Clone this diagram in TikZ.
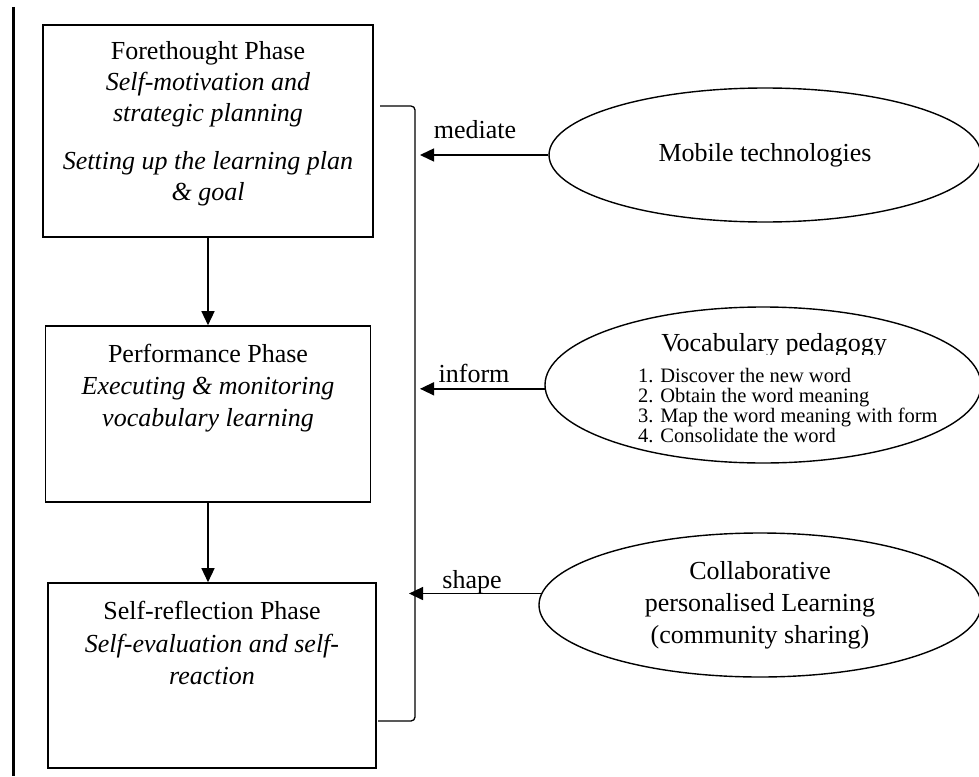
\documentclass[tikz,border=0pt]{standalone}
\usepackage{fontspec}
\setmainfont{Liberation Serif}
\usetikzlibrary{arrows.meta,shapes.geometric,calc}
\lineskiplimit=-40pt
\begin{document}
\begin{tikzpicture}[x=1pt,y=-1pt,
  phasebox/.style={draw,line width=1.6pt,inner sep=0pt},
  conn/.style={line width=1.4pt,-{Triangle[length=14pt,width=13pt]}},
  oval/.style={draw,ellipse,line width=1.4pt,inner sep=0pt},
  txt/.style={font=\fontsize{26}{31}\selectfont,align=center,inner sep=0pt},
  lbl/.style={font=\fontsize{26}{31}\selectfont,inner sep=0pt},
]
\useasboundingbox (0,0) rectangle (979,776);
% left rule
\coordinate (lt) at (13,7);
\coordinate (lb) at (13,776);
\draw[line width=3pt] (lt) -- (lb);
% phase boxes
\node[phasebox,minimum width=330pt,minimum height=212pt] (b1) at (208,131) {};
\node[phasebox,minimum width=325pt,minimum height=176pt] (b2) at (208,414) {};
\node[phasebox,minimum width=328pt,minimum height=185pt] (b3) at (212,675.5) {};
\node[txt,anchor=north] (t1) at (208,41) {Forethought Phase\\\textit{Self-motivation and}\\\textit{strategic planning}\\[17pt]\textit{Setting up the learning plan}\\\textit{\& goal}};
\node[txt,font=\fontsize{26}{32}\selectfont,anchor=north] (t2) at (208,344) {Performance Phase\\\textit{Executing \& monitoring}\\\textit{vocabulary learning}};
\node[txt,font=\fontsize{26}{32.5}\selectfont,anchor=north] (t3) at (212,601) {Self-reflection Phase\\\textit{Self-evaluation and self-}\\\textit{reaction}};
\draw[conn] (b1.south) -- (b1.south |- b2.north);
\draw[conn] (b2.south) -- (b2.south |- b3.north);
% bracket
\coordinate (bt) at (380,106);
\coordinate (bb) at (378,721);
\coordinate (bx) at (415,0);
\draw[line width=1.3pt,rounded corners=4pt] (bt) -- (bt -| bx) -- (bb -| bx) -- (bb);
% ellipses
\node[oval,font=\fontsize{26}{31}\selectfont,minimum width=432pt,minimum height=134pt] (e1) at (765,155) {Mobile technologies};
\node[oval,minimum width=436pt,minimum height=156pt] (e2) at (763,385) {};
\node[oval,txt,font=\fontsize{26}{32}\selectfont,minimum width=442pt,minimum height=144pt] (e3) at (760,605) {Collaborative\\personalised Learning\\(community sharing)};
\begin{scope}
\clip (600,320) rectangle (950,354);
\node[lbl,anchor=base] (vt) at (774,351) {Vocabulary pedagogy};
\end{scope}
\node[font=\fontsize{20.5}{20}\selectfont,align=left,anchor=north west,inner sep=0pt] (vl) at (638,368) {1. Discover the new word\\2. Obtain the word meaning\\3. Map the word meaning with form\\4. Consolidate the word};
% influence arrows
\draw[conn] (e1.west) -- ($(e1.west -| bx)+(5,0)$);
\draw[conn] (e2.181) -- ($(e2.181 -| bx)+(5,0)$);
\draw[conn] (e3.177) -- ($(e3.177 -| bx)+(-6,0)$);
\node[lbl] (lm) at (475,130) {mediate};
\node[lbl] (li) at (474,373) {inform};
\node[lbl] (ls) at (472,582) {shape};
\end{tikzpicture}
\end{document}
